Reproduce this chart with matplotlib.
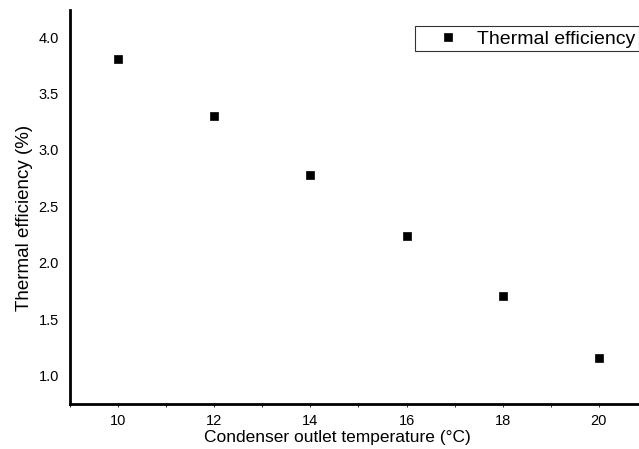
import matplotlib.pyplot as plt
from matplotlib.ticker import MultipleLocator

plt.rcParams['font.family'] = ['Liberation Sans', 'DejaVu Sans']

# data
temperature = [10, 12, 14, 16, 18, 20]
efficiency = [3.81, 3.30, 2.78, 2.24, 1.71, 1.16]

fig = plt.figure(figsize=(6.39, 4.49), dpi=100)
# axes run past the right edge, like the cropped original
ax = fig.add_axes([70 / 639, 45 / 449, 577 / 639, 394 / 449])

ax.plot(temperature, efficiency, 's', color='black', markersize=6,
        markeredgewidth=0.5, linestyle='none', label='Thermal efficiency')

ax.set_xlim(9, 21)
ax.set_ylim(0.75, 4.24)
ax.xaxis.set_major_locator(MultipleLocator(2))
ax.xaxis.set_minor_locator(MultipleLocator(1))
ax.yaxis.set_major_locator(MultipleLocator(0.5))

for side in ['top', 'right']:
    ax.spines[side].set_visible(False)
for side in ['left', 'bottom']:
    ax.spines[side].set_linewidth(2)

ax.tick_params(axis='x', which='both', length=2, width=0.6, labelsize=10.5, pad=5)
ax.tick_params(axis='y', length=0, labelsize=10.5, pad=8)

ax.set_xlabel('Condenser outlet temperature (°C)', fontsize=12.5)
ax.set_ylabel('Thermal efficiency (%)', fontsize=13.5)
ax.xaxis.set_label_coords(0.463, -0.065)
ax.yaxis.set_label_coords(-0.064, 0.472)

# legend text kept just inside the right edge
leg = ax.legend(loc='upper left', bbox_to_anchor=(415 / 639, 1 - 26 / 449),
                bbox_transform=fig.transFigure, fontsize=14, frameon=True,
                fancybox=False, borderpad=0.2, handlelength=3.0,
                handletextpad=0.0, borderaxespad=0, markerscale=0.9)
leg.get_frame().set_edgecolor('black')
leg.get_frame().set_linewidth(0.8)

fig.savefig('out.png', dpi=100)
